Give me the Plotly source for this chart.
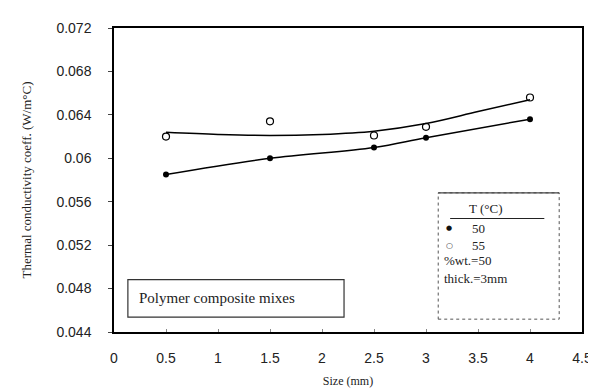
import plotly.graph_objects as go

size_mm = [0.5, 1.5, 2.5, 3, 4]
k_50 = [0.0585, 0.0600, 0.0610, 0.0619, 0.0636]
k_55 = [0.0620, 0.0634, 0.0621, 0.0629, 0.0656]
fit_x = [0.5, 1.0, 1.5, 2.0, 2.5, 3.0, 3.5, 4.0]
fit_55 = [0.0624, 0.0622, 0.0621, 0.0622, 0.0625, 0.0632, 0.0643, 0.0654]
x_ticks = [0, 0.5, 1, 1.5, 2, 2.5, 3, 3.5, 4, 4.5]
y_ticks = [0.044, 0.048, 0.052, 0.056, 0.06, 0.064, 0.068, 0.072]
y_labels = ["0.044", "0.048", "0.052", "0.056", "0.06", "0.064", "0.068", "0.072"]

serif = "Liberation Serif"
sans = "Liberation Sans"

fig = go.Figure()
fig.add_trace(go.Scatter(x=fit_x, y=fit_55, mode="lines", line=dict(color="black", width=1.5, shape="spline"), showlegend=False))
fig.add_trace(go.Scatter(x=size_mm, y=k_50, mode="lines+markers", line=dict(color="black", width=1.5, shape="spline"),
                         marker=dict(symbol="circle", size=6, color="black"), showlegend=False))
fig.add_trace(go.Scatter(x=size_mm, y=k_55, mode="markers",
                         marker=dict(symbol="circle-open", size=7, color="black", line=dict(width=1.2)), showlegend=False))

fig.update_layout(
    width=596, height=392,
    margin=dict(l=106, r=18, t=16, b=68),
    paper_bgcolor="white", plot_bgcolor="white",
    xaxis=dict(range=[0, 4.5], tickvals=x_ticks, ticktext=[str(v) for v in x_ticks],
               showgrid=False, zeroline=False, showline=True, linecolor="black", linewidth=1.5, mirror=True,
               ticks="inside", ticklen=3, tickcolor="#888", ticklabelstandoff=12,
               tickfont=dict(family=sans, size=14, color="#222"),
               title=dict(text="Size (mm)", font=dict(family=serif, size=12, color="#222"), standoff=12)),
    yaxis=dict(range=[0.044, 0.072], tickvals=y_ticks, ticktext=y_labels,
               showgrid=False, zeroline=False, showline=True, linecolor="black", linewidth=1.5, mirror=True,
               ticks="outside", ticklen=4, tickcolor="#444", ticklabelstandoff=14,
               tickfont=dict(family=sans, size=14, color="#222"),
               title=dict(text="Thermal conductivity coeff. (W/m°C)", font=dict(family=serif, size=13, color="#222"), standoff=22)),
    shapes=[
        dict(type="rect", xref="paper", yref="paper", x0=(120-106)/472, x1=(338-106)/472,
             y0=(324-309)/308, y1=(324-271)/308, line=dict(color="#333", width=1.2), fillcolor="white"),
        dict(type="rect", xref="paper", yref="paper", x0=(433-106)/472, x1=(555-106)/472,
             y0=(324-311)/308, y1=(324-183)/308, line=dict(color="#555", width=1, dash="dot"), fillcolor="rgba(0,0,0,0)"),
        dict(type="line", xref="paper", yref="paper", x0=(433-106)/472, x1=(555-106)/472,
             y0=(324-183)/308, y1=(324-183)/308, line=dict(color="#444", width=1.2)),
        dict(type="line", xref="paper", yref="paper", x0=(445-106)/472, x1=(540-106)/472,
             y0=(324-209)/308, y1=(324-209)/308, line=dict(color="#222", width=1.2)),
    ],
    annotations=[
        dict(text="Polymer composite mixes", xref="paper", yref="paper", x=(129-106)/472, y=(324-290)/308,
             xanchor="left", yanchor="middle", showarrow=False, font=dict(family=serif, size=15, color="#222")),
        dict(text="T (°C)", xref="paper", yref="paper", x=(462-106)/472, y=(324-199)/308,
             xanchor="left", yanchor="middle", showarrow=False, font=dict(family=serif, size=13, color="#222")),
        dict(text="●", xref="paper", yref="paper", x=(444-106)/472, y=(324-219)/308,
             xanchor="center", yanchor="middle", showarrow=False, font=dict(family="DejaVu Sans", size=7, color="#111")),
        dict(text="50", xref="paper", yref="paper", x=(465-106)/472, y=(324-219)/308,
             xanchor="left", yanchor="middle", showarrow=False, font=dict(family=serif, size=13, color="#222")),
        dict(text="○", xref="paper", yref="paper", x=(444-106)/472, y=(324-236)/308,
             xanchor="center", yanchor="middle", showarrow=False, font=dict(family="DejaVu Sans", size=8, color="#333")),
        dict(text="55", xref="paper", yref="paper", x=(465-106)/472, y=(324-236)/308,
             xanchor="left", yanchor="middle", showarrow=False, font=dict(family=serif, size=13, color="#222")),
        dict(text="%wt.=50", xref="paper", yref="paper", x=(437-106)/472, y=(324-252)/308,
             xanchor="left", yanchor="middle", showarrow=False, font=dict(family=serif, size=13, color="#222")),
        dict(text="thick.=3mm", xref="paper", yref="paper", x=(437-106)/472, y=(324-270)/308,
             xanchor="left", yanchor="middle", showarrow=False, font=dict(family=serif, size=13, color="#222")),
    ],
)

fig.write_html("out.html")
